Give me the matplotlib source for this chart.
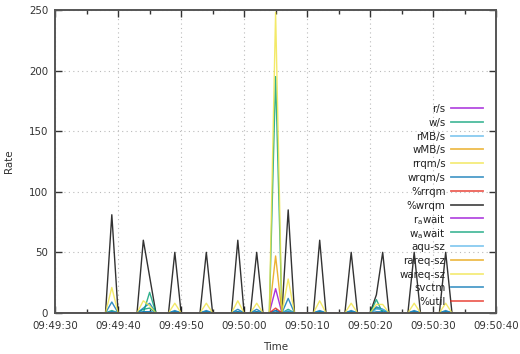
import datetime as dt
import matplotlib
matplotlib.use("Agg")
import matplotlib.pyplot as plt
import matplotlib.dates as mdates
from matplotlib.lines import Line2D

# iostat samples, one per second from 09:49:31 to 09:50:35
start = dt.datetime(2024, 1, 1, 9, 49, 31)
n_samples = 65
# seconds after 09:49:00 where something non-zero happens
event_secs = [39, 44, 45, 49, 54, 59, 62, 65, 67, 72, 77, 81, 82, 87, 92]

r_s       = [0, 0, 0, 0, 0, 0, 0, 20, 0, 0, 0, 0, 0, 0, 0]
w_s       = [2, 3, 4, 1, 1, 1, 1, 195, 3, 1, 1, 4, 2, 1, 1]
rmb_s     = [0, 0, 0, 0, 0, 0, 0, 1, 0, 0, 0, 0, 0, 0, 0]
wmb_s     = [0, 0, 0, 0, 0, 0, 0, 47, 0, 0, 0, 0, 0, 0, 0]
rrqm_s    = [0, 0, 0, 0, 0, 0, 0, 0, 0, 0, 0, 0, 0, 0, 0]
wrqm_s    = [9, 4, 8, 2, 2, 3, 3, 0, 12, 2, 2, 5, 3, 2, 2]
pct_rrqm  = [0, 0, 0, 0, 0, 0, 0, 0, 0, 0, 0, 0, 0, 0, 0]
pct_wrqm  = [81, 60, 30, 50, 50, 60, 50, 0, 85, 60, 50, 15, 50, 50, 50]
r_await   = [0, 0, 0, 0, 0, 0, 0, 0, 0, 0, 0, 0, 0, 0, 0]
w_await   = [0, 0, 17, 0, 0, 0, 0, 0, 0, 0, 0, 11, 0, 0, 0]
aqu_sz    = [1, 1, 1, 1, 1, 1, 1, 2, 2, 1, 1, 3, 3, 1, 1]
rareq_sz  = [0, 0, 0, 0, 0, 0, 0, 0, 0, 0, 0, 0, 0, 0, 0]
wareq_sz  = [21, 10, 6, 8, 8, 10, 8, 248, 28, 10, 8, 7, 7, 8, 8]
svctm     = [1, 1, 1, 1, 1, 1, 1, 2, 1, 1, 1, 1, 1, 1, 1]
pct_util  = [0, 0, 0, 0, 0, 0, 0, 4, 0, 0, 0, 0, 0, 0, 0]

labels = ["r/s", "w/s", "rMB/s", "wMB/s", "rrqm/s", "wrqm/s", "%rrqm", "%wrqm",
          r"r$_{\rm a}$wait", r"w$_{\rm a}$wait", "aqu-sz", "rareq-sz",
          "wareq-sz", "svctm", "%util"]
series = [r_s, w_s, rmb_s, wmb_s, rrqm_s, wrqm_s, pct_rrqm, pct_wrqm,
          r_await, w_await, aqu_sz, rareq_sz, wareq_sz, svctm, pct_util]
palette = ["#9400d3", "#009e73", "#56b4e9", "#e69f00", "#f0e442",
           "#0072b2", "#e51e10", "#000000"]

times = [start + dt.timedelta(seconds=i) for i in range(n_samples)]
first_sec = 31


def expand(vals):
    full = [0.0] * n_samples
    for s, v in zip(event_secs, vals):
        full[s - first_sec] = v
    return full


W, H = 520, 354
fig = plt.figure(figsize=(W / 100, H / 100), dpi=100)
ax = fig.add_axes([0.106, 0.116, 0.848, 0.856])

for i, vals in enumerate(series):
    c = palette[i % len(palette)]
    ax.plot(times, expand(vals), color=c, lw=1.0, alpha=0.8, zorder=2)

ax.set_xlim(dt.datetime(2024, 1, 1, 9, 49, 30), dt.datetime(2024, 1, 1, 9, 50, 40))
ax.set_ylim(0, 250)
ax.xaxis.set_major_locator(mdates.SecondLocator(bysecond=range(0, 60, 10)))
ax.xaxis.set_minor_locator(mdates.SecondLocator(bysecond=range(5, 60, 10)))
ax.xaxis.set_major_formatter(mdates.DateFormatter("%H:%M:%S"))
ax.set_yticks([0, 50, 100, 150, 200, 250])

ax.tick_params(which="both", direction="in", top=True, right=True,
               labelsize=7.4, colors="#333333")
ax.tick_params(which="major", length=5, width=1.0)
ax.tick_params(which="minor", length=3, width=1.0)
ax.tick_params(axis="x", pad=6)
ax.tick_params(axis="y", pad=5)
for sp in ax.spines.values():
    sp.set_color("#555555")
    sp.set_linewidth(1.4)
    sp.set_zorder(3)

ax.grid(True, which="major", linestyle=(0, (1, 3)), color="#bbbbbb", lw=0.8)
ax.set_axisbelow(True)

ax.set_xlabel("Time", fontsize=7.4, color="#333333", labelpad=8)
ax.set_ylabel("Rate", fontsize=7.4, color="#333333", labelpad=11)

# gnuplot-style key: right-aligned labels, sample line on the right
row0, step = 108, 13.8
for i, lab in enumerate(labels):
    y = 1 - (row0 + i * step) / H
    c = palette[i % len(palette)]
    fig.text(445.5 / W, y, lab, ha="right", va="center_baseline",
             fontsize=7.4, color="#222222", zorder=5)
    fig.add_artist(Line2D([451 / W, 483 / W], [y, y], color=c, lw=1.3,
                          alpha=0.7, zorder=5))

fig.savefig("out.png", dpi=100)
